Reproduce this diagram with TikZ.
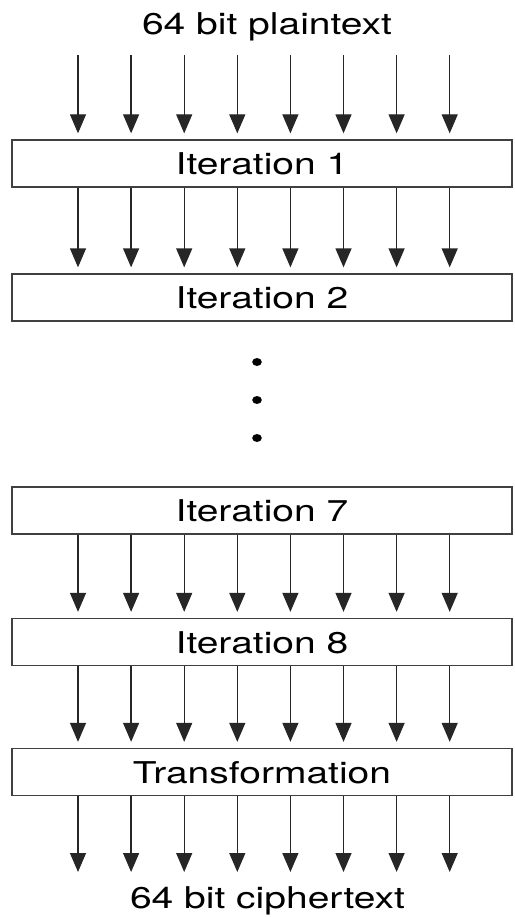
\documentclass[tikz,border=0pt]{standalone}
\usepackage{fontspec}
\setmainfont[FakeStretch=1.3]{TeX Gyre Heros}
\usetikzlibrary{arrows.meta}

\begin{document}
\begin{tikzpicture}[x=1pt,y=-1pt,
  stage/.style={draw=black!75,line width=1.3pt,minimum width=500pt,minimum height=47pt,
    inner sep=0pt,text height=22pt,text depth=0pt,font=\fontsize{30}{36}\selectfont},
  endtext/.style={anchor=base,inner sep=0pt,font=\fontsize{30}{36}\selectfont},
  bit/.style={draw=black!85,line width=1.3pt,-{Triangle[width=16pt,length=19pt]},shorten >=6pt}]
  \useasboundingbox (0,0) rectangle (514,917);

  \node[endtext] (pt) at (267,35) {64 bit plaintext};

  \node[stage] (it1) at (262,163.5) {Iteration 1};
  \node[stage] (it2) at (262,297.5) {Iteration 2};
  \node[stage] (it7) at (262,510.5) {Iteration 7};
  \node[stage] (it8) at (262,642) {Iteration 8};
  \node[stage] (tr) at (262,772) {Transformation};

  \node[endtext] (ct) at (267.5,908) {64 bit ciphertext};

  % skipped rounds
  \foreach \y in {362,400,438}
    \fill (257,\y) ellipse (4.8pt and 4pt);

  % the 8 bytes through each stage
  \foreach \i in {1,...,8} {
    \coordinate (s\i) at ({78+53.1*(\i-1)},55);
    \coordinate (e\i) at ({78+53.1*(\i-1)},878);
    \draw[bit] (s\i) -- (it1.north -| s\i);
    \draw[bit] (it1.south -| s\i) -- (it2.north -| s\i);
    \draw[bit] (it7.south -| s\i) -- (it8.north -| s\i);
    \draw[bit] (it8.south -| s\i) -- (tr.north -| s\i);
    \draw[bit] (tr.south -| s\i) -- (e\i);
  }
\end{tikzpicture}
\end{document}
